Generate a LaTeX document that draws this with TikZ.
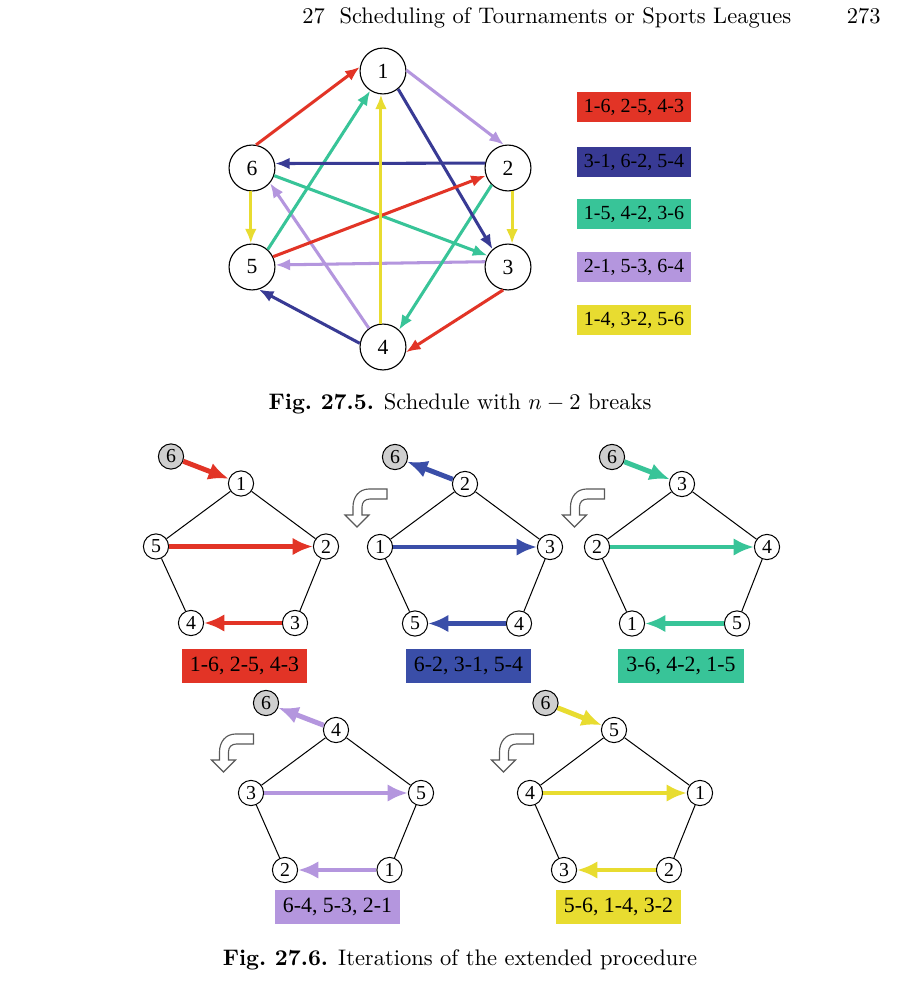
\documentclass[tikz,border=0pt]{standalone}
\usepackage{fontspec}
\newfontfamily\tms{Liberation Serif}
\usetikzlibrary{arrows.meta}
\definecolor{cred}{RGB}{226,52,38}
\definecolor{cnavy}{RGB}{56,58,148}
\definecolor{cblue}{RGB}{58,78,168}
\definecolor{cgreen}{RGB}{56,196,152}
\definecolor{cpurple}{RGB}{180,150,222}
\definecolor{cyellow}{RGB}{232,220,48}
\newcommand\bendicon[1]{%
  \draw[icon,shift={#1}] (30,-38) -- (12,-38) .. controls (2,-38) and (-4,-30) .. (-4,-20)
    -- (-4,-12) -- (-12,-12) -- (0,0) -- (12,-12) -- (5,-12) -- (5,-20)
    .. controls (5,-25) and (8,-28) .. (13,-28) -- (30,-28) -- cycle;}
\begin{document}
\begin{tikzpicture}[x=0.4444pt,y=-0.4444pt,
  bignode/.style={circle,draw,line width=0.5pt,minimum size=20.4pt,inner sep=0pt,fill=white,font=\tms\fontsize{9.6}{9.6}\selectfont},
  tedge/.style={line width=1.35pt,-{Latex[length=6.5pt,width=5.2pt]}},
  legend/.style={minimum width=50.7pt,minimum height=13.3pt,inner sep=0pt,font=\tms\fontsize{8.9}{9}\selectfont},
  pnode/.style={circle,draw,line width=0.45pt,minimum size=11.2pt,inner sep=0pt,fill=white,font=\tms\fontsize{8.8}{8.8}\selectfont},
  gnode/.style={pnode,fill=black!19},
  pline/.style={line width=0.45pt},
  parr/.style={line width=2.2pt,-{Latex[length=9pt,width=7.8pt]}},
  plabel/.style={minimum width=55.6pt,minimum height=14.7pt,inner sep=0pt,font=\tms\fontsize{9.7}{10}\selectfont},
  icon/.style={draw=black!65,line width=0.5pt,fill=white},
  txt/.style={inner sep=0pt}
]
\useasboundingbox[fill=white] (0,0) rectangle (915,986);
% header
\node[txt,anchor=base west] (hd) at (302,23) {27\hspace{0.65em}Scheduling of Tournaments or Sports Leagues};
\node[txt,anchor=base east] (pg) at (881,23) {273};
% ---------- Fig 27.5 ----------
\node[bignode] (t1) at (383,71) {1};
\node[bignode] (t6) at (252,168) {6};
\node[bignode] (t2) at (508,168) {2};
\node[bignode] (t5) at (252,267) {5};
\node[bignode] (t3) at (508,267) {3};
\node[bignode] (t4) at (383,347) {4};
\draw[tedge,cpurple] (t1.2) -- (t2.100);
\draw[tedge,cpurple] (t3.167) -- (t5.5);
\draw[tedge,cpurple] (t4.127) -- (t6.-40);
\draw[tedge,cgreen] (t5.48) -- (t1.237);
\draw[tedge,cgreen] (t6.-19) -- (t3.151);
\draw[tedge,cgreen] (t2.226) -- (t4.47);
\draw[tedge,cnavy] (t2.168) -- (t6.11);
\draw[tedge,cnavy] (t1.-50) -- (t3.131);
\draw[tedge,cnavy] (t4.171) -- (t5.-73);
\draw[tedge,cred] (t6.80) -- (t1.170);
\draw[tedge,cred] (t5.26) -- (t2.199);
\draw[tedge,cred] (t3.-102) -- (t4.-13);
\draw[tedge,cyellow] (t4.95) -- (t1.265);
\draw[tedge,cyellow] (t6.-93) -- (t5.93);
\draw[tedge,cyellow] (t2.-80) -- (t3.80);
\node[legend,fill=cred] (l1) at (634,107) {1-6, 2-5, 4-3};
\node[legend,fill=cnavy] (l2) at (634,162) {3-1, 6-2, 5-4};
\node[legend,fill=cgreen] (l3) at (634,214) {1-5, 4-2, 3-6};
\node[legend,fill=cpurple] (l4) at (634,267) {2-1, 5-3, 6-4};
\node[legend,fill=cyellow] (l5) at (634,320) {1-4, 3-2, 5-6};
\node[txt,anchor=base] (cap1) at (460,409) {\textbf{Fig.\ 27.5.} Schedule with $n-2$ breaks};
% ---------- Fig 27.6 ----------
% red
\begin{scope}[shift={(241,483.5)}]
\node[pnode] (aT) at (0,0) {1};
\node[pnode] (aL) at (-85,63) {5};
\node[pnode] (aR) at (85,63) {2};
\node[pnode] (aBL) at (-50,139.5) {4};
\node[pnode] (aBR) at (54,139.5) {3};
\node[gnode] (aG) at (-70,-27) {6};
\node[plabel,fill=cred] (aLab) at (3.5,182.5) {1-6, 2-5, 4-3};
\end{scope}
\draw[pline] (aT) -- (aL) (aT) -- (aR) (aL) -- (aBL) (aR) -- (aBR);
\draw[parr,cred] (aG) -- (aT);
\draw[parr,cred] (aL) -- (aR);
\draw[parr,cred] (aBR) -- (aBL);
% blue
\begin{scope}[shift={(465,484)}]
\node[pnode] (bT) at (0,0) {2};
\node[pnode] (bL) at (-85,63) {1};
\node[pnode] (bR) at (85,63) {3};
\node[pnode] (bBL) at (-50,139.5) {5};
\node[pnode] (bBR) at (54,139.5) {4};
\node[gnode] (bG) at (-70,-27) {6};
\node[plabel,fill=cblue] (bLab) at (3.5,182) {6-2, 3-1, 5-4};
\end{scope}
\draw[pline] (bT) -- (bL) (bT) -- (bR) (bL) -- (bBL) (bR) -- (bBR);
\draw[parr,cblue] (bT) -- (bG);
\draw[parr,cblue] (bL) -- (bR);
\draw[parr,cblue] (bBR) -- (bBL);
\bendicon{(357,527)}
% green
\begin{scope}[shift={(682,484)}]
\node[pnode] (cT) at (0,0) {3};
\node[pnode] (cL) at (-85,63) {2};
\node[pnode] (cR) at (85,63) {4};
\node[pnode] (cBL) at (-50,139.5) {1};
\node[pnode] (cBR) at (55,139.5) {5};
\node[gnode] (cG) at (-70,-27) {6};
\node[plabel,fill=cgreen] (cLab) at (-1,182) {3-6, 4-2, 1-5};
\end{scope}
\draw[pline] (cT) -- (cL) (cT) -- (cR) (cL) -- (cBL) (cR) -- (cBR);
\draw[parr,cgreen] (cG) -- (cT);
\draw[parr,cgreen] (cL) -- (cR);
\draw[parr,cgreen] (cBR) -- (cBL);
\bendicon{(574.5,527)}
% purple
\begin{scope}[shift={(336,730)}]
\node[pnode] (dT) at (0,0) {4};
\node[pnode] (dL) at (-85,63) {3};
\node[pnode] (dR) at (85,63) {5};
\node[pnode] (dBL) at (-51,140) {2};
\node[pnode] (dBR) at (53.5,140) {1};
\node[gnode] (dG) at (-70,-27) {6};
\node[plabel,fill=cpurple] (dLab) at (1.5,177) {6-4, 5-3, 2-1};
\end{scope}
\draw[pline] (dT) -- (dL) (dT) -- (dR) (dL) -- (dBL) (dR) -- (dBR);
\draw[parr,cpurple] (dT) -- (dG);
\draw[parr,cpurple] (dL) -- (dR);
\draw[parr,cpurple] (dBR) -- (dBL);
\bendicon{(223.5,772)}
% yellow
\begin{scope}[shift={(614,730)}]
\node[pnode] (eT) at (0,0) {5};
\node[pnode] (eL) at (-84,63) {4};
\node[pnode] (eR) at (86,63) {1};
\node[pnode] (eBL) at (-50,140) {3};
\node[pnode] (eBR) at (55,140) {2};
\node[gnode] (eG) at (-68.5,-27) {6};
\node[plabel,fill=cyellow] (eLab) at (4.5,177) {5-6, 1-4, 3-2};
\end{scope}
\draw[pline] (eT) -- (eL) (eT) -- (eR) (eL) -- (eBL) (eR) -- (eBR);
\draw[parr,cyellow] (eG) -- (eT);
\draw[parr,cyellow] (eL) -- (eR);
\draw[parr,cyellow] (eBR) -- (eBL);
\bendicon{(503.5,772)}
\node[txt,anchor=base] (cap2) at (460,965) {\textbf{Fig.\ 27.6.} Iterations of the extended procedure};
\end{tikzpicture}
\end{document}
